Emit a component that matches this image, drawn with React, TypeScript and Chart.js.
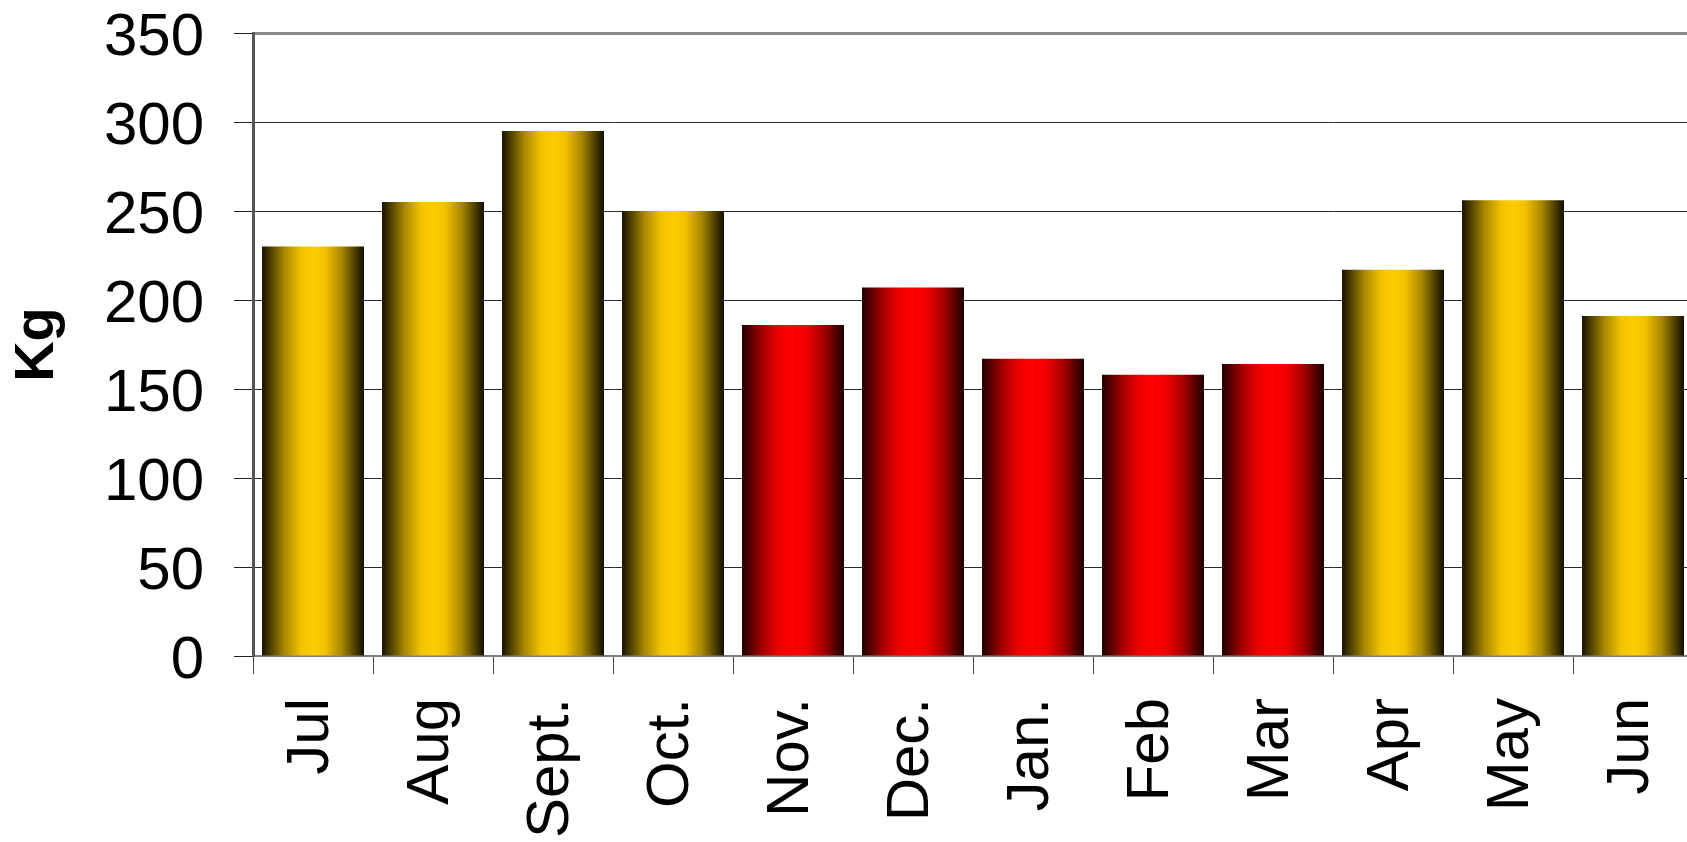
import React, { useEffect, useRef } from "react";
import { Chart, registerables } from "chart.js";

Chart.register(...registerables);

// Monthly totals (kg), July through June
const months = ["Jul", "Aug", "Sept.", "Oct.", "Nov.", "Dec.", "Jan.", "Feb", "Mar", "Apr", "May", "Jun"];
const kilograms = [230, 255, 295, 250, 186, 207, 167, 158, 164, 217, 256, 191];
// Warm months are shaded gold, cold months red
const tones = ["gold", "gold", "gold", "gold", "red", "red", "red", "red", "red", "gold", "gold", "gold"];
const yTicks = [0, 50, 100, 150, 200, 250, 300, 350];

const FONT = "'Liberation Sans', Arial, Helvetica, sans-serif";

const CANVAS_W = 1720;
const CANVAS_H = 842;
const PLOT_LEFT = 253;
const PLOT_RIGHT = 1693;
const PLOT_TOP = 33;
const PLOT_BOTTOM = 656;
const BAR_FRACTION = 0.85;

// Horizontal shading: dark edges, bright centre
const SHADES: Record<string, [number, string][]> = {
  gold: [
    [0, "#181300"],
    [0.22, "#a88600"],
    [0.38, "#f2c200"],
    [0.5, "#ffcc00"],
    [0.62, "#f2c200"],
    [0.78, "#a88600"],
    [1, "#120e00"],
  ],
  red: [
    [0, "#200000"],
    [0.22, "#b00000"],
    [0.38, "#f20000"],
    [0.5, "#ff0000"],
    [0.62, "#f20000"],
    [0.78, "#b00000"],
    [1, "#1a0000"],
  ],
};

export default function App() {
  const canvasRef = useRef<HTMLCanvasElement | null>(null);

  useEffect(() => {
    const canvas = canvasRef.current;
    if (!canvas) return;

    const chart = new Chart(canvas, {
      type: "bar",
      data: {
        labels: months,
        datasets: [
          {
            data: kilograms,
            borderWidth: 0,
            categoryPercentage: 1,
            barPercentage: BAR_FRACTION,
            backgroundColor: (ctx: any) => {
              const c = ctx.chart;
              const xs = c.scales && c.scales.x;
              const tone = tones[ctx.dataIndex] || "gold";
              const stops = SHADES[tone];
              if (!xs || ctx.type !== "data" || !xs.width) return stops[3][1];
              const center = xs.getPixelForValue(ctx.dataIndex);
              const half = ((xs.width / months.length) * BAR_FRACTION) / 2;
              const g = c.ctx.createLinearGradient(center - half, 0, center + half, 0);
              stops.forEach(([pos, col]) => g.addColorStop(pos, col));
              return g;
            },
          },
        ],
      },
      options: {
        responsive: false,
        animation: false,
        layout: {
          padding: { top: PLOT_TOP, right: CANVAS_W - PLOT_RIGHT, bottom: 0, left: 0 },
        },
        plugins: {
          legend: { display: false },
          tooltip: { enabled: false },
        },
        scales: {
          x: {
            type: "category",
            grid: {
              offset: true,
              drawOnChartArea: false,
              drawTicks: true,
              tickLength: 18,
              tickColor: "#444",
              tickWidth: 1,
            },
            border: { display: true, color: "#808080", width: 2 },
            ticks: {
              autoSkip: false,
              minRotation: 90,
              maxRotation: 90,
              padding: 24,
              labelOffset: -2,
              color: "#000",
              font: { family: FONT, size: 60 },
            },
            afterFit: (scale: any) => {
              scale.height = CANVAS_H - PLOT_BOTTOM;
              scale.paddingLeft = 0;
              scale.paddingRight = 0;
            },
          },
          y: {
            min: 0,
            max: 350,
            afterBuildTicks: (scale: any) => {
              scale.ticks = yTicks.map((v) => ({ value: v }));
            },
            grid: {
              color: (c: any) => (c.tick && c.tick.value === 350 ? "#8a8a8a" : "#2a2a2a"),
              lineWidth: (c: any) => (c.tick && c.tick.value === 350 ? 3 : 1),
              drawTicks: true,
              tickLength: 19,
              tickColor: "#222",
              tickWidth: 1,
            },
            border: { display: true, color: "#555", width: 3 },
            ticks: {
              padding: 30,
              labelOffset: 5,
              color: "#000",
              font: { family: FONT, size: 60 },
            },
            title: {
              display: true,
              text: "Kg",
              color: "#000",
              padding: { top: 4, bottom: 4 },
              font: { family: FONT, size: 56, weight: "bold" },
            },
            afterFit: (scale: any) => {
              scale.width = PLOT_LEFT;
              scale.paddingTop = 0;
              scale.paddingBottom = 0;
            },
          },
        },
      } as any,
    });

    return () => chart.destroy();
  }, []);

  return (
    <div
      style={{
        position: "fixed",
        left: 0,
        top: 0,
        width: 1687,
        height: 842,
        overflow: "hidden",
        background: "#fff",
      }}
    >
      <canvas
        ref={canvasRef}
        width={CANVAS_W}
        height={CANVAS_H}
        style={{ display: "block", width: CANVAS_W, height: CANVAS_H }}
      />
    </div>
  );
}
